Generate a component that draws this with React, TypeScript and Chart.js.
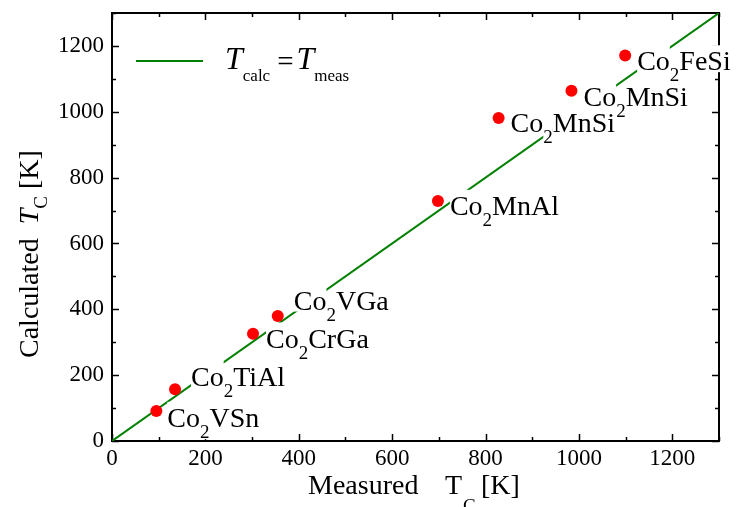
import React, { useEffect, useRef } from 'react';
import { Chart, registerables } from 'chart.js';

Chart.register(...registerables);

// ---- data ----
const compounds = ['Co2VSn', 'Co2TiAl', 'Co2CrGa', 'Co2VGa', 'Co2MnAl', 'Co2MnSi', 'Co2MnSi', 'Co2FeSi'];
const measuredTc = [95, 135, 302, 355, 698, 828, 984, 1099];
const calculatedTc = [91, 157, 326, 380, 729, 981, 1064, 1171];
const guideX = [0, 1300];
const guideY = [0, 1300];
const xTickValues = [0, 200, 400, 600, 800, 1000, 1200];
const yTickValues = [0, 200, 400, 600, 800, 1000, 1200];
const minorStep = 100;
const axisMin = 0;
const axisMax = 1300;

// label placement (pixel offsets of the text baseline start from each point)
const labelOffsets: [number, number][] = [
  [11, 16], [16, -3], [13, 14], [16, -6], [12, 14], [12, 14], [12, 15], [12, 15],
];

const FONT = '"Liberation Serif", "Times New Roman", Times, serif';
const GREEN = '#008000';

function drawFormula(ctx: CanvasRenderingContext2D, x: number, baseline: number, formula: string,
  fs: number, subFs: number, subDy: number, box: boolean) {
  const parts = formula.split(/(\d+)/).filter(Boolean);
  let cx = x;
  const items: { p: string; x: number; y: number; size: number; w: number; sub: boolean }[] = [];
  for (const p of parts) {
    const isSub = /^\d+$/.test(p);
    const size = isSub ? subFs : fs;
    ctx.font = `${size}px ${FONT}`;
    const w = ctx.measureText(p).width;
    const by = isSub ? baseline + subDy : baseline;
    items.push({ p, x: cx, y: by, size, w, sub: isSub });
    cx += w;
  }
  if (box) {
    ctx.fillStyle = '#ffffff';
    for (const it of items) {
      const topK = it.sub ? 0.75 : 0.9;
      ctx.fillRect(it.x, it.y - it.size * topK, it.w, it.size * (topK + 0.06));
    }
  }
  ctx.fillStyle = '#000000';
  ctx.textBaseline = 'alphabetic';
  ctx.textAlign = 'left';
  for (const it of items) {
    ctx.font = `${it.size}px ${FONT}`;
    ctx.fillText(it.p, it.x, it.y);
  }
}

const annotationPlugin = {
  id: 'annot',
  beforeDatasetsDraw(chart: any) {
    const ctx: CanvasRenderingContext2D = chart.ctx;
    const xs = chart.scales.x;
    const ys = chart.scales.y;
    const { left, right, top, bottom } = chart.chartArea;
    ctx.save();
    // frame
    ctx.strokeStyle = '#000';
    ctx.lineWidth = 2;
    ctx.strokeRect(left, top, right - left, bottom - top);
    // ticks (inward, mirrored)
    ctx.lineWidth = 1.5;
    ctx.beginPath();
    for (let v = axisMin; v <= axisMax; v += minorStep) {
      const major = v % 200 === 0;
      const len = major ? 7 : 4;
      const px = Math.round(xs.getPixelForValue(v)) + 0.5;
      ctx.moveTo(px, bottom); ctx.lineTo(px, bottom - len);
      ctx.moveTo(px, top); ctx.lineTo(px, top + len);
      const py = Math.round(ys.getPixelForValue(v)) + 0.5;
      ctx.moveTo(left, py); ctx.lineTo(left + len, py);
      ctx.moveTo(right, py); ctx.lineTo(right - len, py);
    }
    ctx.stroke();
    ctx.restore();
  },
  afterDatasetDraw(chart: any, args: any) {
    if (args.index !== 1) return;
    const ctx: CanvasRenderingContext2D = chart.ctx;
    const xs = chart.scales.x;
    const ys = chart.scales.y;
    ctx.save();
    compounds.forEach((c, i) => {
      const px = xs.getPixelForValue(measuredTc[i]);
      const py = ys.getPixelForValue(calculatedTc[i]);
      const [dx, dy] = labelOffsets[i];
      drawFormula(ctx, px + dx, py + dy, c, 28, 19, 11, true);
    });
    ctx.restore();
  },
  afterDraw(chart: any) {
    const ctx: CanvasRenderingContext2D = chart.ctx;
    ctx.save();
    // legend
    ctx.strokeStyle = GREEN;
    ctx.lineWidth = 2;
    ctx.beginPath();
    ctx.moveTo(136, 61); ctx.lineTo(203, 61);
    ctx.stroke();
    ctx.fillStyle = '#000';
    ctx.textBaseline = 'alphabetic';
    ctx.textAlign = 'left';
    let lx = 225;
    ctx.font = `italic 32px ${FONT}`;
    ctx.fillText('T', lx, 69);
    lx += ctx.measureText('T').width - 1;
    ctx.font = `17px ${FONT}`;
    ctx.fillText('calc', lx + 1, 81);
    lx += ctx.measureText('calc').width + 1;
    ctx.font = `29px ${FONT}`;
    lx += 7;
    ctx.fillText('=', lx, 71);
    lx += ctx.measureText('=').width + 3;
    ctx.font = `italic 32px ${FONT}`;
    ctx.fillText('T', lx, 69);
    lx += ctx.measureText('T').width - 1;
    ctx.font = `17px ${FONT}`;
    ctx.fillText('meas', lx + 1, 81);

    // x title
    ctx.font = `28px ${FONT}`;
    ctx.fillText('Measured', 308, 494);
    ctx.fillText('T', 445, 494);
    ctx.fillText('[K]', 481, 494);
    ctx.font = `19px ${FONT}`;
    ctx.fillText('C', 463, 512);

    // y title (rotated)
    ctx.translate(38, 358);
    ctx.rotate(-Math.PI / 2);
    let tx = 0;
    ctx.font = `28px ${FONT}`;
    ctx.fillText('Calculated', tx, 0);
    tx += ctx.measureText('Calculated').width + ctx.measureText('  ').width;
    ctx.font = `italic 28px ${FONT}`;
    ctx.fillText('T', tx, 0);
    tx += ctx.measureText('T').width;
    ctx.font = `19px ${FONT}`;
    ctx.fillText('C', tx, 9);
    tx += ctx.measureText('C').width;
    ctx.font = `28px ${FONT}`;
    ctx.fillText(' [K]', tx, 0);
    ctx.restore();
  },
};

export default function App() {
  const ref = useRef<HTMLCanvasElement>(null);
  useEffect(() => {
    if (!ref.current) return;
    const chart = new Chart(ref.current, {
      type: 'scatter',
      data: {
        datasets: [
          {
            label: 'Tc',
            data: measuredTc.map((x, i) => ({ x, y: calculatedTc[i] })),
            backgroundColor: '#ff0000',
            borderColor: '#ff0000',
            borderWidth: 0,
            pointRadius: 6,
            pointHoverRadius: 6,
          },
          {
            label: 'Tcalc = Tmeas',
            data: guideX.map((x, i) => ({ x, y: guideY[i] })),
            showLine: true,
            borderColor: GREEN,
            backgroundColor: GREEN,
            borderWidth: 2,
            pointRadius: 0,
          },
        ],
      },
      options: {
        animation: false,
        responsive: false,
        devicePixelRatio: 1,
        events: [],
        layout: { padding: { top: 13, right: 18, left: 0, bottom: 0 } },
        plugins: { legend: { display: false }, tooltip: { enabled: false } },
        scales: {
          x: {
            type: 'linear',
            min: axisMin,
            max: axisMax,
            grid: { display: false, drawTicks: false },
            border: { display: false },
            ticks: {
              color: '#000', font: { family: FONT, size: 23 }, padding: 4, maxRotation: 0,
              callback: (v: any) => String(v),
            },
            afterBuildTicks: (s: any) => { s.ticks = xTickValues.map((v) => ({ value: v })); },
            afterFit: (s: any) => { s.height = 66; s.paddingLeft = 0; s.paddingRight = 0; },
          },
          y: {
            type: 'linear',
            min: axisMin,
            max: axisMax,
            grid: { display: false, drawTicks: false },
            border: { display: false },
            ticks: {
              color: '#000', font: { family: FONT, size: 23 }, padding: 8,
              callback: (v: any) => String(v),
            },
            afterBuildTicks: (s: any) => { s.ticks = yTickValues.map((v) => ({ value: v })); },
            afterFit: (s: any) => { s.width = 112; s.paddingTop = 0; s.paddingBottom = 0; },
          },
        },
      },
      plugins: [annotationPlugin],
    } as any);
    return () => chart.destroy();
  }, []);
  return (
    <div style={{ position: 'absolute', left: 0, top: 0, width: 737, height: 507, background: '#fff' }}>
      <canvas ref={ref} width={737} height={507} style={{ display: 'block' }} />
    </div>
  );
}
